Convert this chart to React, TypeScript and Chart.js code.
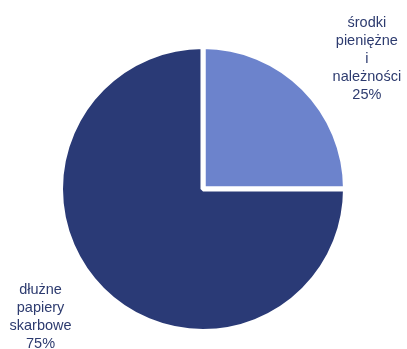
import React, { useEffect, useRef } from "react";
import { Chart, registerables } from "chart.js";

Chart.register(...registerables);

const categories: string[][] = [
  ["środki", "pieniężne", "i", "należności"],
  ["dłużne", "papiery", "skarbowe"],
];
const values: number[] = [25, 75];
const percentLabels: string[] = ["25%", "75%"];
const colors: string[] = ["#6c83cc", "#2a3a76"];

const labelPlugin = {
  id: "sliceLabels",
  afterDraw(chart: any) {
    const meta = chart.getDatasetMeta(0);
    const arc = meta.data[0];
    if (!arc) return;
    const cx = arc.x;
    const cy = arc.y;
    const r = arc.outerRadius;
    const ctx = chart.ctx;
    const anchors = [
      { x: cx + r * 1.15, y: cy - r * 0.915 },
      { x: cx - r * 1.14, y: cy + r * 0.9 },
    ];
    ctx.save();
    ctx.font = "14.5px 'Liberation Sans', Arial, sans-serif";
    ctx.fillStyle = "#2d3b6f";
    ctx.textAlign = "center";
    ctx.textBaseline = "middle";
    const lh = 18;
    categories.forEach((lines, i) => {
      const all = [...lines, percentLabels[i]];
      const a = anchors[i];
      const startY = a.y - ((all.length - 1) * lh) / 2;
      all.forEach((t, j) => ctx.fillText(t, a.x, startY + j * lh));
    });
    ctx.restore();
  },
};

export default function App() {
  const ref = useRef<HTMLCanvasElement | null>(null);
  useEffect(() => {
    document.body.style.margin = "0";
    if (!ref.current) return;
    const chart = new Chart(ref.current, {
      type: "pie",
      data: {
        labels: categories.map((c) => c.join(" ")),
        datasets: [
          {
            data: values,
            backgroundColor: colors,
            borderColor: "#ffffff",
            borderWidth: 5,
          },
        ],
      },
      options: {
        responsive: false,
        animation: false,
        layout: { padding: { top: 44, bottom: 15, left: 58, right: 59 } },
        plugins: {
          legend: { display: false },
          tooltip: { enabled: false },
        },
      },
      plugins: [labelPlugin],
    });
    return () => chart.destroy();
  }, []);
  return (
    <div style={{ position: "fixed", left: 0, top: 0, width: 407, height: 349, background: "#fff" }}>
      <canvas ref={ref} width={407} height={349} />
    </div>
  );
}
